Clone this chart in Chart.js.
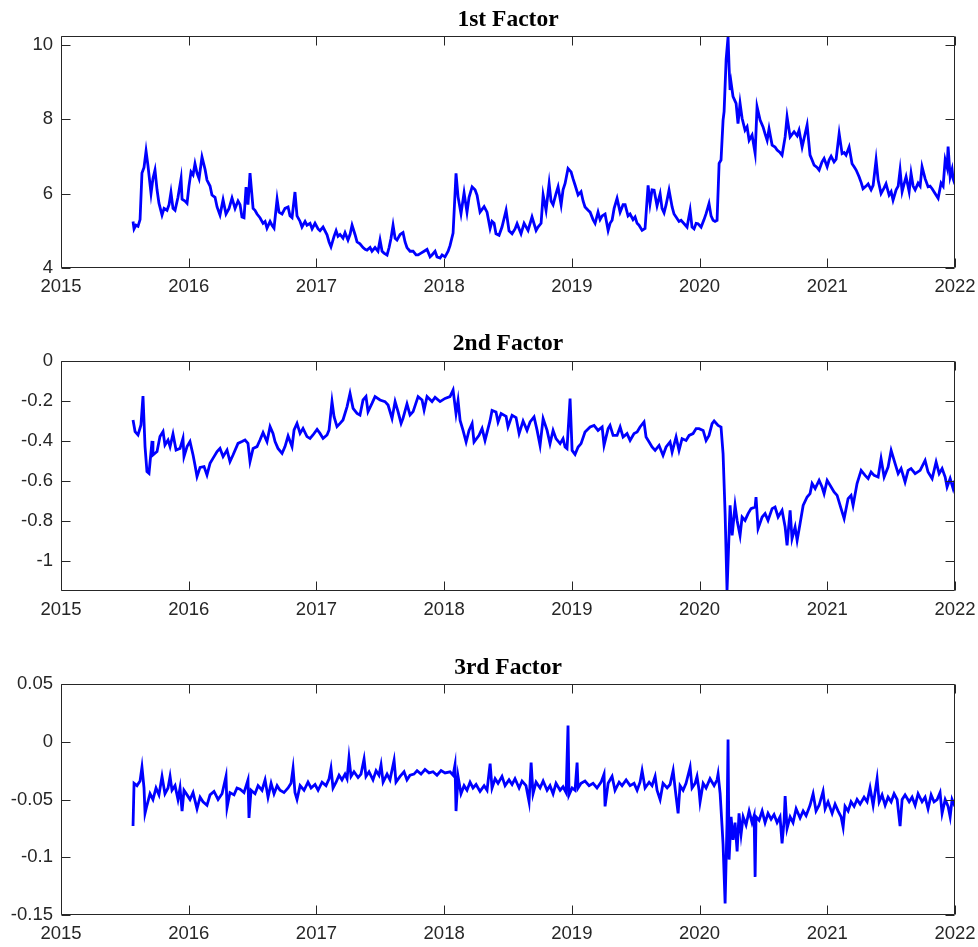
<!DOCTYPE html>
<html><head><meta charset="utf-8">
<script src="https://cdn.jsdelivr.net/npm/chart.js@4.4.1/dist/chart.umd.min.js"></script>
<style>
html,body{margin:0;padding:0;background:#fff;}
body{width:978px;height:947px;position:relative;overflow:hidden;}
canvas{position:absolute;left:0;}
</style></head>
<body>
<canvas id="c1" width="978" height="320" style="top:0px"></canvas>
<canvas id="c2" width="978" height="320" style="top:320px"></canvas>
<canvas id="c3" width="978" height="307" style="top:640px"></canvas>
<script>
// ---- x axis (years) ----
const xTicks = [2015, 2016, 2017, 2018, 2019, 2020, 2021, 2022];
const xLabels = ['2015', '2016', '2017', '2018', '2019', '2020', '2021', '2022'];

// ---- panel titles ----
const titles = ['1st Factor', '2nd Factor', '3rd Factor'];

// ---- 1st factor ----
const dates1 = [
2015.564,2015.572,2015.587,2015.603,2015.619,2015.634,2015.650,2015.666,2015.681,2015.705,2015.720,2015.736,2015.752,2015.767,2015.791,2015.807,2015.830,2015.846,2015.861,2015.877,2015.893,2015.916,2015.940,2015.948,2015.971,2015.987,
2016.002,2016.018,2016.034,2016.049,2016.065,2016.081,2016.104,2016.128,2016.143,2016.167,2016.182,2016.206,2016.222,2016.245,2016.269,2016.292,2016.316,2016.339,2016.363,2016.386,2016.402,2016.417,2016.433,2016.449,2016.464,2016.480,2016.504,2016.519,2016.535,2016.558,2016.582,2016.598,2016.613,2016.637,2016.652,2016.668,2016.692,2016.707,2016.731,2016.754,2016.778,2016.793,2016.809,2016.832,2016.848,2016.872,2016.887,2016.911,2016.926,2016.950,2016.966,2016.989,
2017.013,2017.028,2017.052,2017.083,2017.099,2017.114,2017.138,2017.154,2017.169,2017.185,2017.208,2017.224,2017.247,2017.263,2017.279,2017.302,2017.318,2017.341,2017.365,2017.381,2017.396,2017.420,2017.435,2017.459,2017.482,2017.498,2017.514,2017.529,2017.553,2017.569,2017.584,2017.600,2017.616,2017.631,2017.655,2017.678,2017.694,2017.709,2017.733,2017.757,2017.780,2017.796,2017.819,2017.843,2017.866,2017.890,2017.905,2017.929,2017.944,2017.968,2017.984,
2018.007,2018.031,2018.046,2018.070,2018.093,2018.109,2018.132,2018.156,2018.179,2018.195,2018.219,2018.242,2018.258,2018.281,2018.313,2018.336,2018.360,2018.375,2018.391,2018.406,2018.430,2018.453,2018.485,2018.508,2018.532,2018.555,2018.571,2018.602,2018.626,2018.657,2018.688,2018.720,2018.735,2018.759,2018.775,2018.798,2018.822,2018.837,2018.853,2018.876,2018.892,2018.916,2018.931,2018.947,2018.970,2018.994,
2019.009,2019.025,2019.049,2019.072,2019.088,2019.103,2019.127,2019.143,2019.166,2019.182,2019.205,2019.221,2019.237,2019.260,2019.284,2019.299,2019.315,2019.331,2019.354,2019.378,2019.401,2019.417,2019.440,2019.456,2019.479,2019.495,2019.511,2019.526,2019.550,2019.573,2019.597,2019.612,2019.628,2019.644,2019.667,2019.691,2019.706,2019.722,2019.738,2019.761,2019.785,2019.800,2019.816,2019.839,2019.855,2019.879,2019.902,2019.926,2019.941,2019.957,2019.973,2019.988,
2020.012,2020.035,2020.051,2020.074,2020.090,2020.106,2020.121,2020.137,2020.153,2020.168,2020.184,2020.192,2020.208,2020.223,2020.231,2020.239,2020.247,2020.262,2020.286,2020.301,2020.317,2020.333,2020.356,2020.372,2020.388,2020.411,2020.435,2020.450,2020.474,2020.497,2020.513,2020.529,2020.544,2020.568,2020.591,2020.607,2020.630,2020.646,2020.670,2020.685,2020.709,2020.740,2020.764,2020.779,2020.803,2020.826,2020.842,2020.865,2020.881,2020.897,2020.920,2020.936,2020.959,2020.975,2020.999,
2021.014,2021.030,2021.053,2021.069,2021.093,2021.116,2021.132,2021.147,2021.171,2021.194,2021.210,2021.226,2021.249,2021.265,2021.280,2021.304,2021.320,2021.343,2021.359,2021.382,2021.398,2021.421,2021.445,2021.460,2021.484,2021.500,2021.515,2021.539,2021.555,2021.570,2021.586,2021.601,2021.617,2021.641,2021.656,2021.672,2021.688,2021.711,2021.727,2021.742,2021.766,2021.789,2021.805,2021.821,2021.844,2021.868,2021.891,2021.907,2021.923,2021.938,2021.946,2021.962,2021.977,2021.985,2022.000];
const factor1 = [
5.25,5.05,5.15,5.12,5.30,6.55,6.70,7.14,6.75,6.00,6.40,6.63,6.10,5.74,5.42,5.60,5.55,5.70,6.03,5.60,5.55,5.90,6.40,5.85,5.80,5.74,
6.20,6.58,6.50,6.80,6.55,6.40,6.98,6.65,6.36,6.20,5.96,5.90,5.64,5.42,5.83,5.45,5.60,5.88,5.60,5.80,5.70,5.37,5.35,6.17,5.70,6.55,5.60,5.55,5.45,5.35,5.20,5.25,5.07,5.25,5.15,5.07,5.85,5.50,5.45,5.60,5.64,5.40,5.35,6.04,5.40,5.25,5.10,5.25,5.15,5.20,5.05,5.20,
5.05,5.00,5.10,4.89,4.70,4.57,4.85,5.00,4.85,4.90,4.80,4.95,4.75,4.90,5.15,4.90,4.70,4.65,4.55,4.50,4.48,4.55,4.45,4.55,4.45,4.75,4.45,4.40,4.35,4.55,4.80,5.15,4.80,4.75,4.90,4.95,4.70,4.55,4.45,4.45,4.35,4.35,4.40,4.45,4.50,4.30,4.35,4.45,4.30,4.27,4.35,
4.30,4.45,4.60,4.94,6.54,5.91,5.46,6.02,5.50,5.90,6.18,6.10,5.95,5.50,5.65,5.50,5.06,5.25,5.20,4.92,4.88,5.10,5.55,5.00,4.92,5.05,5.19,4.92,5.20,5.01,5.37,5.01,5.10,5.20,5.96,5.55,6.27,5.80,5.70,6.00,6.18,5.70,6.10,6.27,6.67,6.58,
6.40,6.23,5.96,6.05,5.80,5.64,5.55,5.50,5.30,5.20,5.50,5.30,5.40,5.45,5.01,5.20,5.28,5.60,5.87,5.50,5.70,5.70,5.40,5.45,5.30,5.37,5.20,5.15,5.01,5.06,6.22,5.73,6.10,6.09,5.67,5.99,5.60,5.48,5.70,6.09,5.64,5.45,5.37,5.25,5.28,5.19,5.10,5.55,5.10,5.05,5.20,5.19,
5.10,5.30,5.46,5.73,5.40,5.28,5.25,5.28,6.81,6.90,7.97,8.20,9.60,10.20,9.40,8.78,8.97,8.60,8.42,7.88,8.42,8.02,7.70,7.79,7.43,7.57,7.08,8.33,7.97,7.79,7.60,7.43,7.74,7.30,7.25,7.17,7.10,7.03,7.52,8.06,7.52,7.66,7.55,7.70,7.25,7.60,7.84,7.03,6.90,6.76,6.70,6.63,6.85,6.94,6.72,
6.90,7.00,6.85,6.92,7.61,7.07,7.10,7.03,7.25,6.80,6.72,6.63,6.45,6.30,6.13,6.20,6.26,6.10,6.22,6.90,6.36,6.00,6.15,6.26,5.96,6.05,5.82,6.10,6.20,6.63,6.05,6.25,6.45,6.05,6.54,6.20,6.10,6.28,6.20,6.72,6.40,6.18,6.20,6.13,6.00,5.87,6.28,6.20,6.90,6.70,7.26,6.45,6.65,6.40,6.25];

// ---- 2nd factor ----
const dates2 = [
2015.564,2015.580,2015.603,2015.626,2015.642,2015.658,2015.673,2015.689,2015.713,2015.720,2015.752,2015.775,2015.799,2015.814,2015.838,2015.854,2015.877,2015.901,2015.932,2015.955,2015.963,2015.987,
2016.010,2016.034,2016.049,2016.065,2016.089,2016.120,2016.143,2016.167,2016.190,2016.222,2016.245,2016.269,2016.300,2016.323,2016.347,2016.386,2016.417,2016.441,2016.464,2016.480,2016.504,2016.535,2016.558,2016.582,2016.613,2016.637,2016.660,2016.676,2016.699,2016.731,2016.754,2016.778,2016.809,2016.825,2016.848,2016.872,2016.895,2016.926,2016.950,2016.973,
2017.005,2017.028,2017.052,2017.083,2017.099,2017.122,2017.138,2017.161,2017.185,2017.208,2017.240,2017.263,2017.287,2017.318,2017.341,2017.365,2017.388,2017.404,2017.435,2017.459,2017.498,2017.537,2017.561,2017.592,2017.616,2017.639,2017.663,2017.678,2017.709,2017.733,2017.757,2017.796,2017.827,2017.843,2017.866,2017.905,2017.929,2017.968,
2018.007,2018.046,2018.070,2018.093,2018.109,2018.125,2018.148,2018.172,2018.195,2018.219,2018.234,2018.273,2018.297,2018.320,2018.360,2018.375,2018.406,2018.422,2018.446,2018.485,2018.500,2018.532,2018.563,2018.587,2018.618,2018.649,2018.673,2018.704,2018.728,2018.751,2018.775,2018.806,2018.829,2018.853,2018.876,2018.908,2018.931,2018.947,2018.962,2018.986,
2019.002,2019.025,2019.049,2019.072,2019.103,2019.143,2019.174,2019.205,2019.237,2019.252,2019.284,2019.299,2019.323,2019.354,2019.378,2019.401,2019.432,2019.456,2019.487,2019.511,2019.534,2019.565,2019.581,2019.605,2019.628,2019.652,2019.683,2019.714,2019.738,2019.769,2019.785,2019.816,2019.839,2019.863,2019.894,2019.918,2019.949,2019.973,2019.996,
2020.028,2020.051,2020.074,2020.098,2020.114,2020.145,2020.168,2020.184,2020.200,2020.215,2020.231,2020.239,2020.255,2020.278,2020.294,2020.317,2020.333,2020.356,2020.380,2020.403,2020.435,2020.442,2020.458,2020.490,2020.513,2020.536,2020.568,2020.591,2020.615,2020.646,2020.670,2020.685,2020.709,2020.724,2020.748,2020.764,2020.787,2020.811,2020.842,2020.865,2020.881,2020.905,2020.936,2020.959,2020.975,2020.999,
2021.030,2021.053,2021.077,2021.108,2021.132,2021.163,2021.186,2021.202,2021.233,2021.265,2021.296,2021.320,2021.343,2021.367,2021.398,2021.421,2021.445,2021.476,2021.500,2021.531,2021.555,2021.578,2021.609,2021.633,2021.656,2021.688,2021.727,2021.766,2021.789,2021.821,2021.852,2021.876,2021.899,2021.923,2021.938,2021.962,2021.985,2022.000];
const factor2 = [
-0.295,-0.353,-0.370,-0.320,-0.175,-0.428,-0.553,-0.562,-0.400,-0.470,-0.453,-0.378,-0.353,-0.420,-0.395,-0.428,-0.365,-0.445,-0.437,-0.387,-0.478,-0.428,
-0.403,-0.470,-0.520,-0.578,-0.532,-0.528,-0.570,-0.512,-0.487,-0.453,-0.437,-0.478,-0.445,-0.503,-0.470,-0.412,-0.403,-0.395,-0.412,-0.503,-0.437,-0.428,-0.395,-0.358,-0.403,-0.328,-0.362,-0.403,-0.437,-0.462,-0.428,-0.375,-0.428,-0.345,-0.312,-0.362,-0.337,-0.378,-0.387,-0.370,
-0.342,-0.362,-0.387,-0.370,-0.345,-0.203,-0.278,-0.328,-0.312,-0.295,-0.228,-0.162,-0.237,-0.262,-0.270,-0.195,-0.178,-0.253,-0.212,-0.178,-0.195,-0.203,-0.220,-0.287,-0.203,-0.253,-0.312,-0.287,-0.215,-0.270,-0.253,-0.178,-0.195,-0.245,-0.178,-0.203,-0.182,-0.203,
-0.187,-0.178,-0.145,-0.263,-0.197,-0.297,-0.347,-0.405,-0.347,-0.313,-0.405,-0.372,-0.338,-0.397,-0.297,-0.247,-0.255,-0.305,-0.263,-0.277,-0.330,-0.272,-0.283,-0.363,-0.300,-0.347,-0.305,-0.280,-0.347,-0.422,-0.288,-0.347,-0.413,-0.347,-0.388,-0.413,-0.388,-0.430,-0.438,-0.188,
-0.447,-0.467,-0.430,-0.413,-0.355,-0.330,-0.322,-0.347,-0.330,-0.422,-0.338,-0.322,-0.372,-0.372,-0.330,-0.380,-0.363,-0.397,-0.363,-0.355,-0.330,-0.305,-0.380,-0.405,-0.430,-0.447,-0.422,-0.472,-0.430,-0.405,-0.455,-0.380,-0.447,-0.388,-0.397,-0.372,-0.363,-0.338,-0.338,
-0.347,-0.397,-0.372,-0.313,-0.300,-0.322,-0.330,-0.463,-0.763,-1.147,-0.863,-0.722,-0.872,-0.722,-0.797,-0.872,-0.780,-0.797,-0.763,-0.738,-0.730,-0.680,-0.838,-0.780,-0.763,-0.797,-0.738,-0.730,-0.780,-0.747,-0.830,-0.922,-0.747,-0.888,-0.830,-0.897,-0.813,-0.722,-0.680,-0.663,-0.613,-0.638,-0.597,-0.630,-0.663,-0.597,
-0.630,-0.655,-0.672,-0.738,-0.788,-0.688,-0.672,-0.722,-0.613,-0.547,-0.572,-0.588,-0.555,-0.572,-0.580,-0.488,-0.580,-0.530,-0.447,-0.513,-0.563,-0.538,-0.605,-0.547,-0.538,-0.563,-0.547,-0.497,-0.555,-0.588,-0.505,-0.563,-0.538,-0.580,-0.630,-0.588,-0.638,-0.597];

// ---- 3rd factor ----
const dates3 = [
2015.564,2015.572,2015.595,2015.619,2015.634,2015.650,2015.658,2015.673,2015.697,2015.720,2015.744,2015.767,2015.791,2015.814,2015.838,2015.854,2015.869,2015.893,2015.916,2015.932,2015.948,2015.963,2015.987,
2016.010,2016.034,2016.065,2016.089,2016.112,2016.143,2016.167,2016.198,2016.230,2016.261,2016.292,2016.300,2016.323,2016.355,2016.378,2016.402,2016.433,2016.464,2016.472,2016.488,2016.519,2016.543,2016.574,2016.598,2016.621,2016.645,2016.668,2016.692,2016.715,2016.746,2016.778,2016.801,2016.817,2016.832,2016.848,2016.872,2016.903,2016.934,2016.958,2016.989,
2017.013,2017.044,2017.075,2017.099,2017.114,2017.130,2017.154,2017.177,2017.200,2017.224,2017.240,2017.255,2017.271,2017.294,2017.326,2017.349,2017.373,2017.388,2017.412,2017.443,2017.467,2017.490,2017.506,2017.522,2017.553,2017.576,2017.608,2017.623,2017.655,2017.686,2017.709,2017.733,2017.764,2017.788,2017.819,2017.850,2017.882,2017.913,2017.944,2017.976,
2018.007,2018.046,2018.070,2018.085,2018.093,2018.109,2018.132,2018.156,2018.179,2018.203,2018.226,2018.250,2018.281,2018.313,2018.336,2018.360,2018.375,2018.399,2018.422,2018.453,2018.477,2018.508,2018.532,2018.555,2018.587,2018.610,2018.641,2018.665,2018.681,2018.696,2018.720,2018.751,2018.775,2018.806,2018.829,2018.853,2018.876,2018.908,2018.931,2018.955,2018.970,2018.978,
2019.002,2019.025,2019.041,2019.049,2019.072,2019.103,2019.135,2019.166,2019.197,2019.229,2019.252,2019.260,2019.284,2019.315,2019.338,2019.370,2019.393,2019.425,2019.456,2019.487,2019.511,2019.534,2019.550,2019.573,2019.605,2019.628,2019.652,2019.667,2019.691,2019.714,2019.746,2019.769,2019.793,2019.808,2019.832,2019.847,2019.871,2019.894,2019.926,2019.941,2019.965,2019.980,2019.996,
2020.004,2020.028,2020.051,2020.082,2020.114,2020.137,2020.145,2020.161,2020.176,2020.184,2020.200,2020.215,2020.223,2020.231,2020.247,2020.262,2020.278,2020.294,2020.309,2020.325,2020.341,2020.364,2020.388,2020.411,2020.427,2020.435,2020.442,2020.466,2020.490,2020.513,2020.536,2020.560,2020.583,2020.607,2020.630,2020.646,2020.662,2020.670,2020.685,2020.709,2020.732,2020.756,2020.787,2020.811,2020.834,2020.865,2020.889,2020.912,2020.936,2020.967,2020.983,
2021.006,2021.038,2021.061,2021.085,2021.108,2021.124,2021.139,2021.163,2021.186,2021.210,2021.233,2021.257,2021.288,2021.312,2021.335,2021.359,2021.390,2021.406,2021.429,2021.453,2021.476,2021.500,2021.523,2021.547,2021.570,2021.586,2021.609,2021.641,2021.664,2021.688,2021.711,2021.742,2021.766,2021.789,2021.813,2021.836,2021.860,2021.883,2021.899,2021.923,2021.946,2021.962,2021.977,2022.000];
const factor3 = [
-0.073,-0.036,-0.038,-0.034,-0.022,-0.040,-0.062,-0.055,-0.045,-0.050,-0.040,-0.046,-0.030,-0.045,-0.040,-0.030,-0.042,-0.038,-0.050,-0.040,-0.060,-0.042,-0.046,
-0.050,-0.044,-0.058,-0.048,-0.052,-0.055,-0.046,-0.043,-0.050,-0.045,-0.030,-0.057,-0.044,-0.046,-0.040,-0.041,-0.044,-0.033,-0.066,-0.042,-0.045,-0.038,-0.042,-0.033,-0.048,-0.036,-0.045,-0.038,-0.042,-0.044,-0.040,-0.036,-0.023,-0.044,-0.050,-0.038,-0.042,-0.035,-0.040,-0.037,
-0.042,-0.035,-0.038,-0.032,-0.023,-0.040,-0.035,-0.029,-0.033,-0.028,-0.032,-0.014,-0.030,-0.026,-0.031,-0.028,-0.015,-0.030,-0.026,-0.033,-0.025,-0.029,-0.020,-0.035,-0.028,-0.033,-0.016,-0.035,-0.030,-0.026,-0.033,-0.029,-0.028,-0.025,-0.028,-0.024,-0.027,-0.026,-0.029,-0.025,
-0.027,-0.026,-0.029,-0.020,-0.060,-0.030,-0.045,-0.038,-0.042,-0.035,-0.040,-0.037,-0.043,-0.038,-0.042,-0.019,-0.040,-0.032,-0.036,-0.030,-0.038,-0.033,-0.037,-0.032,-0.040,-0.034,-0.038,-0.052,-0.018,-0.045,-0.035,-0.040,-0.034,-0.042,-0.038,-0.045,-0.036,-0.042,-0.039,-0.044,0.014,-0.046,
-0.040,-0.042,-0.018,-0.040,-0.036,-0.034,-0.038,-0.036,-0.040,-0.035,-0.028,-0.056,-0.036,-0.030,-0.042,-0.035,-0.038,-0.033,-0.038,-0.036,-0.042,-0.035,-0.025,-0.040,-0.035,-0.038,-0.030,-0.042,-0.050,-0.036,-0.040,-0.037,-0.025,-0.040,-0.062,-0.038,-0.042,-0.036,-0.022,-0.040,-0.036,-0.030,-0.042,
-0.052,-0.036,-0.040,-0.032,-0.038,-0.033,-0.028,-0.045,-0.073,-0.089,-0.140,-0.070,0.002,-0.102,-0.065,-0.085,-0.070,-0.095,-0.062,-0.080,-0.065,-0.072,-0.060,-0.070,-0.064,-0.117,-0.065,-0.068,-0.060,-0.070,-0.062,-0.067,-0.063,-0.070,-0.065,-0.088,-0.068,-0.047,-0.075,-0.065,-0.070,-0.058,-0.066,-0.060,-0.064,-0.055,-0.045,-0.060,-0.055,-0.043,-0.058,
-0.052,-0.062,-0.054,-0.060,-0.065,-0.074,-0.056,-0.060,-0.052,-0.056,-0.050,-0.054,-0.048,-0.052,-0.040,-0.055,-0.032,-0.052,-0.046,-0.055,-0.048,-0.052,-0.045,-0.050,-0.073,-0.050,-0.046,-0.052,-0.048,-0.055,-0.045,-0.052,-0.048,-0.058,-0.046,-0.052,-0.050,-0.044,-0.062,-0.050,-0.056,-0.065,-0.050,-0.056];

// ---- y axes ----
const yTicks1 = [4, 6, 8, 10];
const yLabels1 = ['4', '6', '8', '10'];
const yTicks2 = [-1, -0.8, -0.6, -0.4, -0.2, 0];
const yLabels2 = ['-1', '-0.8', '-0.6', '-0.4', '-0.2', '0'];
const yTicks3 = [-0.15, -0.1, -0.05, 0, 0.05];
const yLabels3 = ['-0.15', '-0.1', '-0.05', '0', '0.05'];

const AXIS = '#262626';
const TICKFONT = {family: '"Liberation Sans", Arial, sans-serif', size: 18.5};

function makePanel(id, title, dates, vals, yMin, yMax, yTicks, yLabels, padTop, xAxisH, titleBase) {
  const frame = {
    id: 'frame',
    afterDraw(chart) {
      const {ctx, chartArea: a, scales} = chart;
      ctx.save();
      ctx.strokeStyle = AXIS; ctx.lineWidth = 1;
      const L = Math.round(a.left) + 0.5, R = Math.round(a.right) - 0.5;
      const T = Math.round(a.top) + 0.5, B = Math.round(a.bottom) - 0.5;
      ctx.beginPath();
      ctx.rect(L, T, R - L, B - T);
      xTicks.forEach(v => {
        const p = Math.round(scales.x.getPixelForValue(v)) + 0.5;
        ctx.moveTo(p, B); ctx.lineTo(p, B - 9);
        ctx.moveTo(p, T); ctx.lineTo(p, T + 9);
      });
      yTicks.forEach(v => {
        const p = Math.round(scales.y.getPixelForValue(v)) + 0.5;
        ctx.moveTo(L, p); ctx.lineTo(L + 9, p);
        ctx.moveTo(R, p); ctx.lineTo(R - 9, p);
      });
      ctx.stroke();
      ctx.fillStyle = '#000';
      ctx.font = 'bold 23.5px "Liberation Serif", "Times New Roman", serif';
      ctx.textAlign = 'center'; ctx.textBaseline = 'alphabetic';
      ctx.fillText(title, (a.left + a.right) / 2, titleBase);
      ctx.restore();
    }
  };
  return new Chart(document.getElementById(id), {
    type: 'line',
    data: {datasets: [{
      data: dates.map((d, i) => ({x: d, y: vals[i]})),
      borderColor: '#0000ff', borderWidth: 2.8, pointRadius: 0, tension: 0, fill: false
    }]},
    options: {
      responsive: false, animation: false, devicePixelRatio: 1,
      layout: {padding: {top: padTop, right: 23, bottom: 0, left: 0}},
      plugins: {legend: {display: false}, tooltip: {enabled: false}, title: {display: false}},
      scales: {
        x: {
          type: 'linear', min: 2015, max: 2022,
          afterBuildTicks: s => { s.ticks = xTicks.map(v => ({value: v})); },
          afterFit: s => { s.height = xAxisH; s.paddingLeft = 0; s.paddingRight = 0; },
          grid: {display: false, drawTicks: false}, border: {display: false},
          ticks: {autoSkip: false, maxRotation: 0, padding: 8, color: AXIS, font: TICKFONT,
                  callback: (v) => xLabels[xTicks.indexOf(v)]}
        },
        y: {
          type: 'linear', min: yMin, max: yMax,
          afterBuildTicks: s => { s.ticks = yTicks.map(v => ({value: v})); },
          afterFit: s => { s.width = 61; s.paddingTop = 0; s.paddingBottom = 0; },
          grid: {display: false, drawTicks: false}, border: {display: false},
          ticks: {autoSkip: false, padding: 8, color: AXIS, font: TICKFONT,
                  callback: (v) => yLabels[yTicks.findIndex(t => Math.abs(t - v) < 1e-9)]}
        }
      }
    },
    plugins: [frame]
  });
}

makePanel('c1', titles[0], dates1, factor1, 4, 10.23, yTicks1, yLabels1, 36, 52, 26);
makePanel('c2', titles[1], dates2, factor2, -1.15, 0, yTicks2, yLabels2, 41, 49, 30);
makePanel('c3', titles[2], dates3, factor3, -0.15, 0.05, yTicks3, yLabels3, 44, 32, 34);
</script>
</body></html>
